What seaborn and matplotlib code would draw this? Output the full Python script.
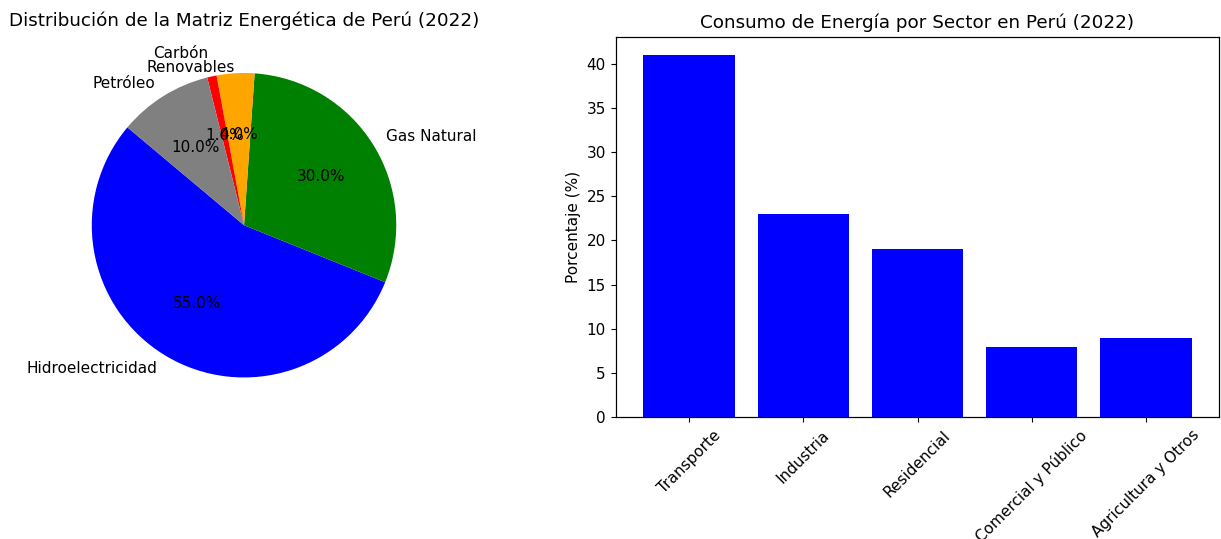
import matplotlib
matplotlib.use("Agg")
import matplotlib.pyplot as plt
import seaborn as sns
import pandas as pd

# Pie data (counter-clockwise order from start angle)
fuentes = ["Hidroelectricidad", "Gas Natural", "Renovables", "Carbón", "Petróleo"]
participacion = [55, 30, 4, 1, 10]
colores_pie = ["blue", "green", "orange", "red", "gray"]

# Bar data
sectores = ["Transporte", "Industria", "Residencial", "Comercial y Público", "Agricultura y Otros"]
consumo = [41, 23, 19, 8, 9]

plt.rcParams["font.size"] = 11
plt.rcParams["axes.titlepad"] = 6.6
plt.rcParams["xtick.major.size"] = 3.85
plt.rcParams["ytick.major.size"] = 3.85
plt.rcParams["axes.linewidth"] = 0.88

fig = plt.figure(figsize=(12.21, 5.39), dpi=100)

# Pie chart
ax1 = fig.add_axes([0.044, 0.2291, 0.3117, 0.7061])
wedges, texts, autotexts = ax1.pie(participacion, labels=fuentes, colors=colores_pie,
                                   autopct="%1.1f%%", startangle=140)
ax1.set_aspect("equal")
ax1.set_title("Distribución de la Matriz Energética de Perú (2022)")
# separate the overlapping small-slice labels as in the reference
for t in texts:
    if t.get_text() == "Carbón":
        x, y = t.get_position()
        t.set_position((x, y + 0.055))
    elif t.get_text() == "Renovables":
        x, y = t.get_position()
        t.set_position((x, y - 0.065))

# Bar chart
ax2 = fig.add_axes([0.5045, 0.2258, 0.4939, 0.7061])
df = pd.DataFrame({"Sector": sectores, "Porcentaje": consumo})
sns.barplot(data=df, x="Sector", y="Porcentaje", color="blue", saturation=1,
            width=0.8, ax=ax2, edgecolor="none")
ax2.set_xlim(-0.64, 4.64)
ax2.set_ylim(0, max(consumo) * 1.05)
ax2.set_title("Consumo de Energía por Sector en Perú (2022)")
ax2.set_xlabel("")
ax2.set_ylabel("Porcentaje (%)")
ax2.tick_params(axis="x", labelrotation=45)

fig.savefig("out.png", dpi=100)
